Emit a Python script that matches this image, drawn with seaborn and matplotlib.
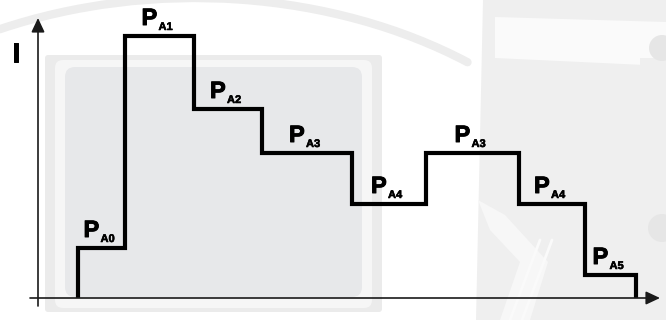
import matplotlib
matplotlib.use('Agg')
import numpy as np
import pandas as pd
import matplotlib.pyplot as plt
import matplotlib.patheffects as pe
import seaborn as sns
from matplotlib.patches import FancyBboxPatch, Arc, Circle, Polygon, Rectangle

# pulse profile: phase names, start of each phase and its current level
phase_names = ['A0', 'A1', 'A2', 'A3', 'A4', 'A3', 'A4', 'A5']
phase_start = [40, 87, 156, 224, 314, 388, 481, 547]
phase_end = 598
phase_level = [50, 262, 189, 145, 94, 145, 94, 23]

sns.set_theme(style='white')
plt.rcParams['font.family'] = ['Liberation Sans', 'DejaVu Sans']
plt.rcParams['text.color'] = 'black'

fig = plt.figure(figsize=(6.66, 3.2), dpi=100)
fig.patch.set_facecolor('white')

# --- faint watermark in the background (pixel coordinates) ---
bg = fig.add_axes([0, 0, 1, 1])
bg.set_xlim(0, 666)
bg.set_ylim(320, 0)
bg.axis('off')

bg.add_patch(Arc((195, 330), 922, 664, theta1=237, theta2=315.5,
                 color='#ededed', lw=6, capstyle='round'))
bg.add_patch(Polygon([(483, 0), (666, 0), (666, 320), (476, 320)],
                     closed=True, facecolor='#efefef', edgecolor='none'))
bg.add_patch(Polygon([(495, 17), (666, 22), (666, 66), (495, 58)],
                     closed=True, facecolor='#fafafa', edgecolor='none'))
bg.add_patch(Rectangle((640, 58), 26, 12, facecolor='#efefef', edgecolor='none'))
bg.add_patch(Circle((662, 48), 13, facecolor='#e6e6e6', edgecolor='none'))
bg.add_patch(Circle((662, 228), 14, facecolor='#e6e6e6', edgecolor='none'))
bg.add_patch(Polygon([(478, 200), (505, 215), (548, 262), (530, 320), (500, 320), (520, 262), (490, 230)],
                     closed=True, facecolor='#f7f7f7', edgecolor='none'))
for x0 in [540, 552]:
    bg.plot([x0, x0 - 30], [240, 320], color='#fafafa', lw=2)

bg.add_patch(FancyBboxPatch((45, 55), 337, 257, boxstyle='round,pad=0,rounding_size=3',
                            facecolor='#ebebeb', edgecolor='none'))
bg.add_patch(FancyBboxPatch((55, 60), 317, 248, boxstyle='round,pad=0,rounding_size=8',
                            facecolor='#f6f6f6', edgecolor='none'))
bg.add_patch(FancyBboxPatch((65, 67), 297, 230, boxstyle='round,pad=0,rounding_size=10',
                            facecolor='#e7e8ea', edgecolor='none'))

# --- the current profile ---
ax = fig.add_axes([0, 0, 1, 1])
ax.set_xlim(-38, 628)
ax.set_ylim(-22, 298)
ax.axis('off')
ax.patch.set_alpha(0)

times = [phase_start[0]] + phase_start + [phase_end, phase_end]
levels = [0] + phase_level + [phase_level[-1], 0]
df = pd.DataFrame({'t': times, 'I': levels})
sns.lineplot(data=df, x='t', y='I', estimator=None, sort=False, drawstyle='steps-post',
             color='black', lw=3, ax=ax, solid_joinstyle='miter', solid_capstyle='butt')

# axes with arrow heads
arrow = dict(arrowstyle='-|>,head_length=0.85,head_width=0.4', lw=1.2, color='#1a1a1a',
             shrinkA=0, shrinkB=0, mutation_scale=10)
ax.annotate('', xy=(0, 280), xytext=(0, -8), arrowprops=arrow)
ax.annotate('', xy=(622, 0), xytext=(-8, 0), arrowprops=arrow)

heavy = [pe.withStroke(linewidth=0.7, foreground='black')]
ax.text(-26, 236, 'I', fontsize=20, fontweight='bold', color='black',
        ha='left', va='baseline', path_effects=heavy)

# phase labels P_Ax centred over each step
ends = phase_start[1:] + [phase_end]
for name, t0, t1, lvl in zip(phase_names, phase_start, ends, phase_level):
    c = (t0 + t1) / 2
    ax.annotate('P', xy=(c, lvl), xytext=(-18, 11), textcoords='offset pixels',
                fontsize=17, fontweight='bold', color='black', ha='left', va='baseline',
                path_effects=heavy)
    ax.annotate(name, xy=(c, lvl), xytext=(-1, 6), textcoords='offset pixels',
                fontsize=8, fontweight='bold', color='black', ha='left', va='baseline',
                path_effects=[pe.withStroke(linewidth=0.4, foreground='black')])

fig.savefig('out.png', dpi=100)
